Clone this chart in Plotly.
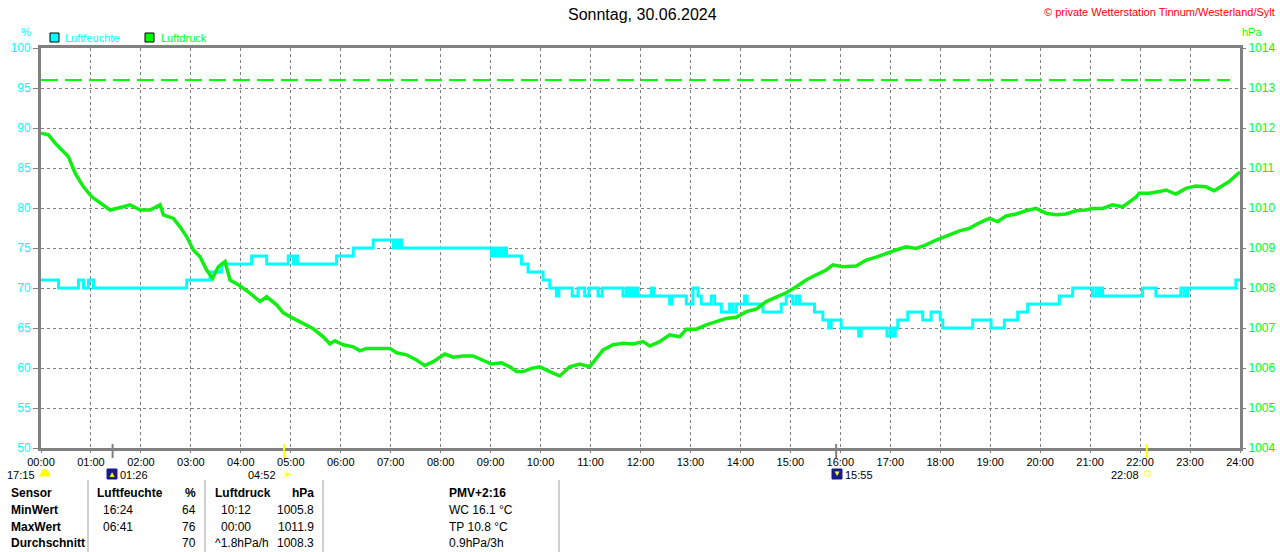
import plotly.graph_objects as go

# --- data ---
hum_times = ['00:00', '00:21', '00:45', '00:51', '00:57', '01:03', '02:55', '03:23', '03:37',
             '04:13', '04:31', '04:57', '05:03', '05:05', '05:08', '05:55', '06:15', '06:39',
             '07:03', '07:05', '07:08', '07:10', '07:13', '09:01', '09:04', '09:07', '09:10',
             '09:13', '09:16', '09:19', '09:37', '09:45', '10:03', '10:11', '10:19', '10:22',
             '10:38', '10:45', '10:53', '10:58', '11:09', '11:14', '11:39', '11:43', '11:46',
             '11:49', '11:51', '11:54', '11:57', '12:13', '12:16', '12:35', '12:38', '12:55',
             '13:03', '13:09', '13:13', '13:25', '13:29', '13:37', '13:47', '13:51', '13:55',
             '14:05', '14:08', '14:27', '14:49', '14:55', '15:03', '15:07', '15:11', '15:29',
             '15:39', '15:46', '15:49', '16:01', '16:22', '16:25', '16:56', '17:00', '17:02',
             '17:06', '17:09', '17:21', '17:39', '17:49', '18:00', '18:03', '18:39', '19:01',
             '19:17', '19:33', '19:45', '20:23', '20:39', '21:03', '21:07', '21:11', '21:13',
             '21:15', '22:03', '22:19', '22:49', '22:53', '22:57', '23:55', '24:00']
hum_values = [71, 70, 71, 70, 71, 70, 71, 72, 73,
              74, 73, 74, 73, 74, 73, 74, 75, 76,
              75, 76, 75, 76, 75, 74, 75, 74, 75,
              74, 75, 74, 73, 72, 71, 70, 69, 70,
              69, 70, 69, 70, 69, 70, 69, 70, 69,
              70, 69, 70, 69, 70, 69, 68, 69, 68,
              70, 69, 68, 69, 68, 67, 68, 67, 68,
              69, 68, 67, 68, 69, 68, 69, 68, 67,
              66, 65, 66, 65, 64, 65, 64, 65, 64,
              65, 66, 67, 66, 67, 66, 65, 66, 65,
              66, 67, 68, 69, 70, 69, 70, 69, 70,
              69, 70, 69, 70, 69, 70, 71, 71]

pres_times = ['00:00', '00:09', '00:17', '00:25', '00:33', '00:41', '00:51', '01:01', '01:11',
              '01:23', '01:39', '01:47', '01:59', '02:11', '02:23', '02:27', '02:39', '02:47',
              '02:55', '03:03', '03:11', '03:19', '03:26', '03:33', '03:41', '03:47', '03:57',
              '04:11', '04:23', '04:31', '04:43', '04:51', '05:03', '05:15', '05:27', '05:39',
              '05:47', '05:53', '06:03', '06:15', '06:23', '06:31', '06:47', '06:59', '07:07',
              '07:19', '07:31', '07:41', '07:51', '08:05', '08:15', '08:27', '08:39', '08:51',
              '09:01', '09:13', '09:23', '09:31', '09:39', '09:49', '09:59', '10:11', '10:23',
              '10:35', '10:47', '10:59', '11:07', '11:15', '11:27', '11:39', '11:51', '12:03',
              '12:11', '12:23', '12:35', '12:47', '12:55', '13:07', '13:19', '13:31', '13:43',
              '13:55', '14:07', '14:19', '14:31', '14:43', '14:55', '15:07', '15:19', '15:31',
              '15:43', '15:51', '16:03', '16:19', '16:31', '16:43', '16:55', '17:07', '17:19',
              '17:31', '17:43', '17:55', '18:11', '18:23', '18:35', '18:47', '18:59', '19:09',
              '19:19', '19:31', '19:43', '19:55', '20:07', '20:19', '20:31', '20:43', '20:55',
              '21:03', '21:15', '21:27', '21:39', '21:47', '21:55', '21:59', '22:11', '22:23',
              '22:31', '22:43', '22:55', '23:07', '23:19', '23:29', '23:39', '23:47', '23:57',
              '24:00']
pres_values = [1011.87, 1011.83, 1011.62, 1011.45, 1011.28, 1010.87, 1010.53, 1010.28, 1010.12,
               1009.95, 1010.03, 1010.08, 1009.95, 1009.95, 1010.08, 1009.83, 1009.74, 1009.53,
               1009.28, 1008.95, 1008.78, 1008.45, 1008.24, 1008.53, 1008.66, 1008.20, 1008.08,
               1007.87, 1007.66, 1007.78, 1007.58, 1007.38, 1007.24, 1007.12, 1006.98, 1006.78,
               1006.60, 1006.68, 1006.58, 1006.53, 1006.43, 1006.49, 1006.49, 1006.49, 1006.38,
               1006.33, 1006.20, 1006.06, 1006.16, 1006.35, 1006.27, 1006.30, 1006.30, 1006.20,
               1006.10, 1006.13, 1006.03, 1005.91, 1005.91, 1005.99, 1006.03, 1005.91, 1005.80,
               1006.03, 1006.10, 1006.03, 1006.24, 1006.45, 1006.58, 1006.62, 1006.60, 1006.66,
               1006.55, 1006.66, 1006.83, 1006.78, 1006.97, 1006.97, 1007.08, 1007.16, 1007.24,
               1007.27, 1007.41, 1007.47, 1007.66, 1007.77, 1007.88, 1008.03, 1008.20, 1008.33,
               1008.45, 1008.58, 1008.53, 1008.55, 1008.70, 1008.77, 1008.87, 1008.95, 1009.03,
               1008.99, 1009.08, 1009.20, 1009.33, 1009.43, 1009.49, 1009.63, 1009.74, 1009.66,
               1009.80, 1009.85, 1009.93, 1009.99, 1009.87, 1009.83, 1009.85, 1009.93, 1009.95,
               1009.99, 1009.99, 1010.08, 1010.03, 1010.16, 1010.27, 1010.37, 1010.37, 1010.41,
               1010.45, 1010.35, 1010.49, 1010.55, 1010.53, 1010.43, 1010.55, 1010.66, 1010.85,
               1010.90]

hum_ref_line = 96
hour_labels = ['%02d:00' % h for h in range(25)]

# sun / moon events
moon_events = ['01:26', '15:55']
sun_events = ['04:52', '22:08']
day_length = '17:15'

table_rows = ['Sensor', 'MinWert', 'MaxWert', 'Durchschnitt']
hum_col_time = ['Luftfeuchte', '16:24', '06:41', '']
hum_col_val = ['%', '64', '76', '70']
pres_col_time = ['Luftdruck', '10:12', '00:00', '^1.8hPa/h']
pres_col_val = ['hPa', '1005.8', '1011.9', '1008.3']
extra_col = ['PMV+2:16', 'WC 16.1 °C', 'TP 10.8 °C', '0.9hPa/3h']

# --- layout helpers ---
W, H = 1280, 552
L, R, T, B = 41, 40, 48, 104
PW, PH = W - L - R, H - T - B
FONT = 'Liberation Sans, Arial, sans-serif'
CYAN = '#00ffff'
GREEN = '#00ff00'
LINE_GREEN = '#11ee11'
GRAY = '#808080'


def hours(t):
    h, m = t.split(':')
    return int(h) + int(m) / 60


def px(x, y):
    return (x - L) / PW, (H - B - y) / PH


annotations = []
shapes = []


def text(x, y, s, color='black', size=12, anchor='left', bold=False):
    ax, ay = px(x, y)
    annotations.append(dict(
        x=ax, y=ay, xref='paper', yref='paper', text=('<b>%s</b>' % s) if bold else s,
        showarrow=False, xanchor=anchor, yanchor='middle',
        font=dict(family=FONT, size=size, color=color)))


def rect(x0, y0, x1, y1, fill, line='black', width=1):
    a0, b0 = px(x0, y0)
    a1, b1 = px(x1, y1)
    shapes.append(dict(type='rect', xref='paper', yref='paper', x0=a0, y0=b0, x1=a1, y1=b1,
                       fillcolor=fill, line=dict(color=line, width=width)))


def vline(x, y0, y1, color, width=1):
    a, b0 = px(x, y0)
    _, b1 = px(x, y1)
    shapes.append(dict(type='line', xref='paper', yref='paper', x0=a, y0=b0, x1=a, y1=b1,
                       line=dict(color=color, width=width)))


fig = go.Figure()

fig.add_trace(go.Scatter(
    x=[hours(t) for t in pres_times], y=pres_values, yaxis='y2', mode='lines',
    line=dict(color=LINE_GREEN, width=3.5), name='Luftdruck', showlegend=False))

fig.add_trace(go.Scatter(
    x=[hours(t) for t in hum_times], y=hum_values, mode='lines',
    line=dict(color=CYAN, width=3, shape='hv'), name='Luftfeuchte', showlegend=False))

# green dashed reference line
shapes.append(dict(type='line', xref='x', yref='y', x0=0, x1=23.8, y0=hum_ref_line, y1=hum_ref_line,
                   line=dict(color=GREEN, width=2, dash='17px,7px')))

# sun / moon tick marks on the time axis
for t in moon_events:
    a = hours(t)
    shapes.append(dict(type='line', xref='x', yref='paper', x0=a, x1=a, y0=px(0, 458)[1],
                       y1=px(0, 444)[1], line=dict(color=GRAY, width=2)))
for t in sun_events:
    a = hours(t)
    shapes.append(dict(type='line', xref='x', yref='paper', x0=a, x1=a, y0=px(0, 458)[1],
                       y1=px(0, 444)[1], line=dict(color='#ffff00', width=2)))

# titles
text(642, 15, 'Sonntag, 30.06.2024', size=16, anchor='center')
text(1277, 12, '© private Wetterstation Tinnum/Westerland/Sylt', color='#ff0000', size=11,
     anchor='right')
text(26, 32, '%', color=CYAN, size=11, anchor='center')
text(1240, 32, 'hPa', color=GREEN, size=11, anchor='left')

# legend
rect(50, 33, 59, 42, CYAN)
text(63, 38, 'Luftfeuchte', color=CYAN, size=11)
rect(145, 33, 154, 42, GREEN)
text(159, 38, 'Luftdruck', color=GREEN, size=11)

# event labels below the axis
text(37, 475, day_length, size=11, anchor='right')
a0, b0 = px(40, 476)
a1, b1 = px(50, 476)
_, bt = px(0, 469)
shapes.append(dict(type='path', xref='paper', yref='paper', fillcolor='#ffff00',
                   line=dict(color='#ffff00', width=1),
                   path='M %f,%f Q %f,%f %f,%f Z' % (a0, b0, (a0 + a1) / 2, bt - (b0 - bt), a1, b1)))

rect(107, 469, 117, 479, '#1a1a8c', line='#1a1a8c')
text(112, 475, '▲', color='#ffff00', size=8, anchor='center')
text(118, 475, moon_events[0], size=11)
text(278, 475, sun_events[0], size=11, anchor='right')
text(287, 475, '☀', color='#ffff00', size=12, anchor='center')
rect(832, 469, 842, 479, '#1a1a8c', line='#1a1a8c')
text(837, 473, '▼', color='#ffff00', size=8, anchor='center')
text(843, 475, moon_events[1], size=11)
text(1141, 475, sun_events[1], size=11, anchor='right')
rect(1145, 471, 1150, 476, 'white', line='#ffff00')

# bottom table
row_y = [493, 510, 527, 543]
for i, y in enumerate(row_y):
    head = i == 0
    text(9, y, table_rows[i], bold=True)
    text(95 if head else 101, y, hum_col_time[i], bold=head)
    text(198, y, hum_col_val[i], anchor='right', bold=head)
    text(213 if (head or i == 3) else 219, y, pres_col_time[i], bold=head)
    text(316, y, pres_col_val[i], anchor='right', bold=head)
    text(447, y, extra_col[i], bold=head)
for x in [88, 205, 323, 559]:
    vline(x, 480, 552, '#a0a0a0')

axis_font = dict(family=FONT, size=12)
fig.update_layout(
    width=W, height=H,
    margin=dict(l=L, r=R, t=T, b=B, pad=0, autoexpand=False),
    paper_bgcolor='white', plot_bgcolor='white',
    showlegend=False,
    xaxis=dict(range=[0, 24], tickvals=list(range(25)), ticktext=hour_labels,
               tickfont=dict(family=FONT, size=11, color='black'), showgrid=True, gridcolor=GRAY,
               griddash='3px,3px', gridwidth=1, showline=True, linecolor=GRAY, linewidth=3,
               mirror=True, ticks='outside', ticklen=2, tickcolor=GRAY, zeroline=False,
               automargin=False, fixedrange=True),
    yaxis=dict(range=[50, 100], dtick=5, tickfont=dict(axis_font, color=CYAN), showgrid=True,
               gridcolor=GRAY, griddash='3px,3px', gridwidth=1, showline=True, linecolor=GRAY,
               linewidth=3, mirror=True, ticks='outside', ticklen=5, tickcolor=GRAY,
               zeroline=False, automargin=False),
    yaxis2=dict(range=[1004, 1014], dtick=1, overlaying='y', side='right',
                tickfont=dict(axis_font, color=GREEN), showgrid=False, showline=False,
                ticks='outside', ticklen=5, tickcolor=GRAY, zeroline=False, automargin=False),
    annotations=annotations,
    shapes=shapes,
)

# page body has a default margin; drop it so the figure fills the window exactly
fig.write_html('out.html', config={'displayModeBar': False},
               post_script="document.body.style.margin='0';"
                           "document.body.style.overflow='hidden';")
